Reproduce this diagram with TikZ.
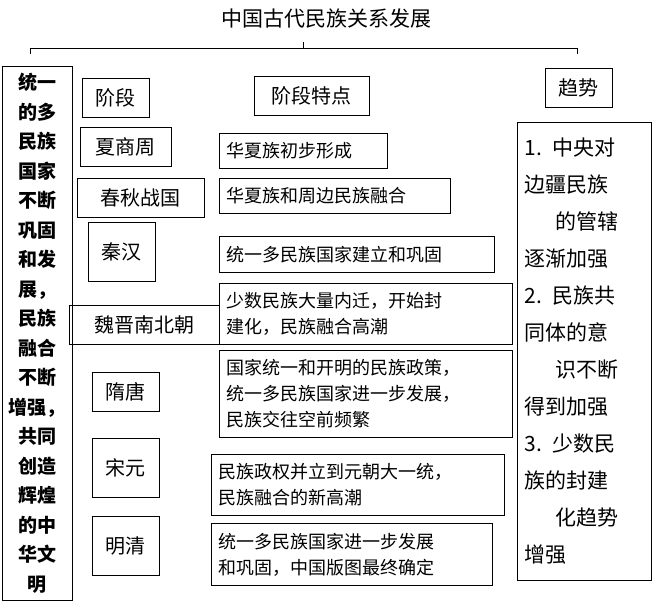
\documentclass[tikz,border=0pt]{standalone}
\usepackage{fontspec}
\setmainfont{Noto Sans CJK SC}
\usetikzlibrary{positioning}

\tikzset{
  box/.style={draw, thick, anchor=north west, inner sep=0pt},
  stagebox/.style={box, font=\fontsize{20}{23}\selectfont},
  featbox/.style={box, align=left, text width=#1, font=\fontsize{18}{26}\selectfont},
}

\begin{document}
\begin{tikzpicture}[x=1pt,y=-1pt]
  \useasboundingbox (0,0) rectangle (652,601);

  % title and brace
  \node (title) at (326,19) {\fontsize{21}{24}\selectfont 中国古代民族关系发展};
  \coordinate (bl) at (30,54); \coordinate (br) at (577,54);
  \coordinate (bm) at (303,48);
  \draw (bl) -- ++(0,-6) -- (br |- bm) -- (br);
  \draw (bm) -- ++(0,-6);

  % left column
  \node[box, minimum width=70, minimum height=534, align=center,
        font=\bfseries\fontsize{19}{29.5}\selectfont] (sum) at (2,66)
    {统一\\的多\\民族\\国家\\不断\\巩固\\和发\\展，\\民族\\融合\\不断\\增强，\\共同\\创造\\辉煌\\的中\\华文\\明};

  % headers
  \node[stagebox, minimum width=67, minimum height=39] (stage) at (82,78) {阶段};
  \node[stagebox, minimum width=115, minimum height=39] (feat) at (254,76) {阶段特点};
  \node[stagebox, minimum width=67, minimum height=39] (trend) at (545,68) {趋势};

  % stages
  \node[stagebox, minimum width=91, minimum height=39] (xsz) at (80,127) {夏商周};
  \node[stagebox, minimum width=127, minimum height=39] (cqzg) at (77,178) {春秋战国};
  \node[stagebox, minimum width=67, minimum height=59] (qh) at (88,222) {秦汉};
  \node[stagebox, minimum width=150, minimum height=39] (wjnbc) at (69,305) {魏晋南北朝};
  \node[stagebox, minimum width=67, minimum height=39] (st) at (92,372) {隋唐};
  \node[stagebox, minimum width=67, minimum height=59] (sy) at (92,438) {宋元};
  \node[stagebox, minimum width=67, minimum height=59] (mq) at (92,516) {明清};

  % features
  \node[featbox=154, minimum height=35, inner xsep=7] (f1) at (219,133) {华夏族初步形成};
  \node[featbox=217, minimum height=35, inner xsep=7] (f2) at (219,178) {华夏族和周边民族融合};
  \node[featbox=261, minimum height=36, inner xsep=7] (f3) at (219,236) {统一多民族国家建立和巩固};
  \node[featbox=279, minimum height=61, inner xsep=7] (f4) at (219,283) {少数民族大量内迁，开始封\\建化，民族融合高潮};
  \node[featbox=279, minimum height=87, inner xsep=7] (f5) at (219,350) {国家统一和开明的民族政策，\\统一多民族国家进一步发展，\\民族交往空前频繁};
  \node[featbox=279, minimum height=61, inner xsep=7] (f6) at (211,454) {民族政权并立到元朝大一统，\\民族融合的新高潮};
  \node[featbox=267, minimum height=62, inner xsep=7] (f7) at (211,523) {统一多民族国家进一步发展\\和巩固，中国版图最终确定};

  % trends
  \node[box, minimum width=134, minimum height=458, align=left, text width=120,
        inner xsep=7, font=\fontsize{21}{37}\selectfont] (tr) at (517,122)
    {1. 中央对\\边疆民族\\\hspace*{1.5em}的管辖\\逐渐加强\\2. 民族共\\同体的意\\\hspace*{1.5em}识不断\\得到加强\\3. 少数民\\族的封建\\\hspace*{1.5em}化趋势\\增强};
\end{tikzpicture}
\end{document}
